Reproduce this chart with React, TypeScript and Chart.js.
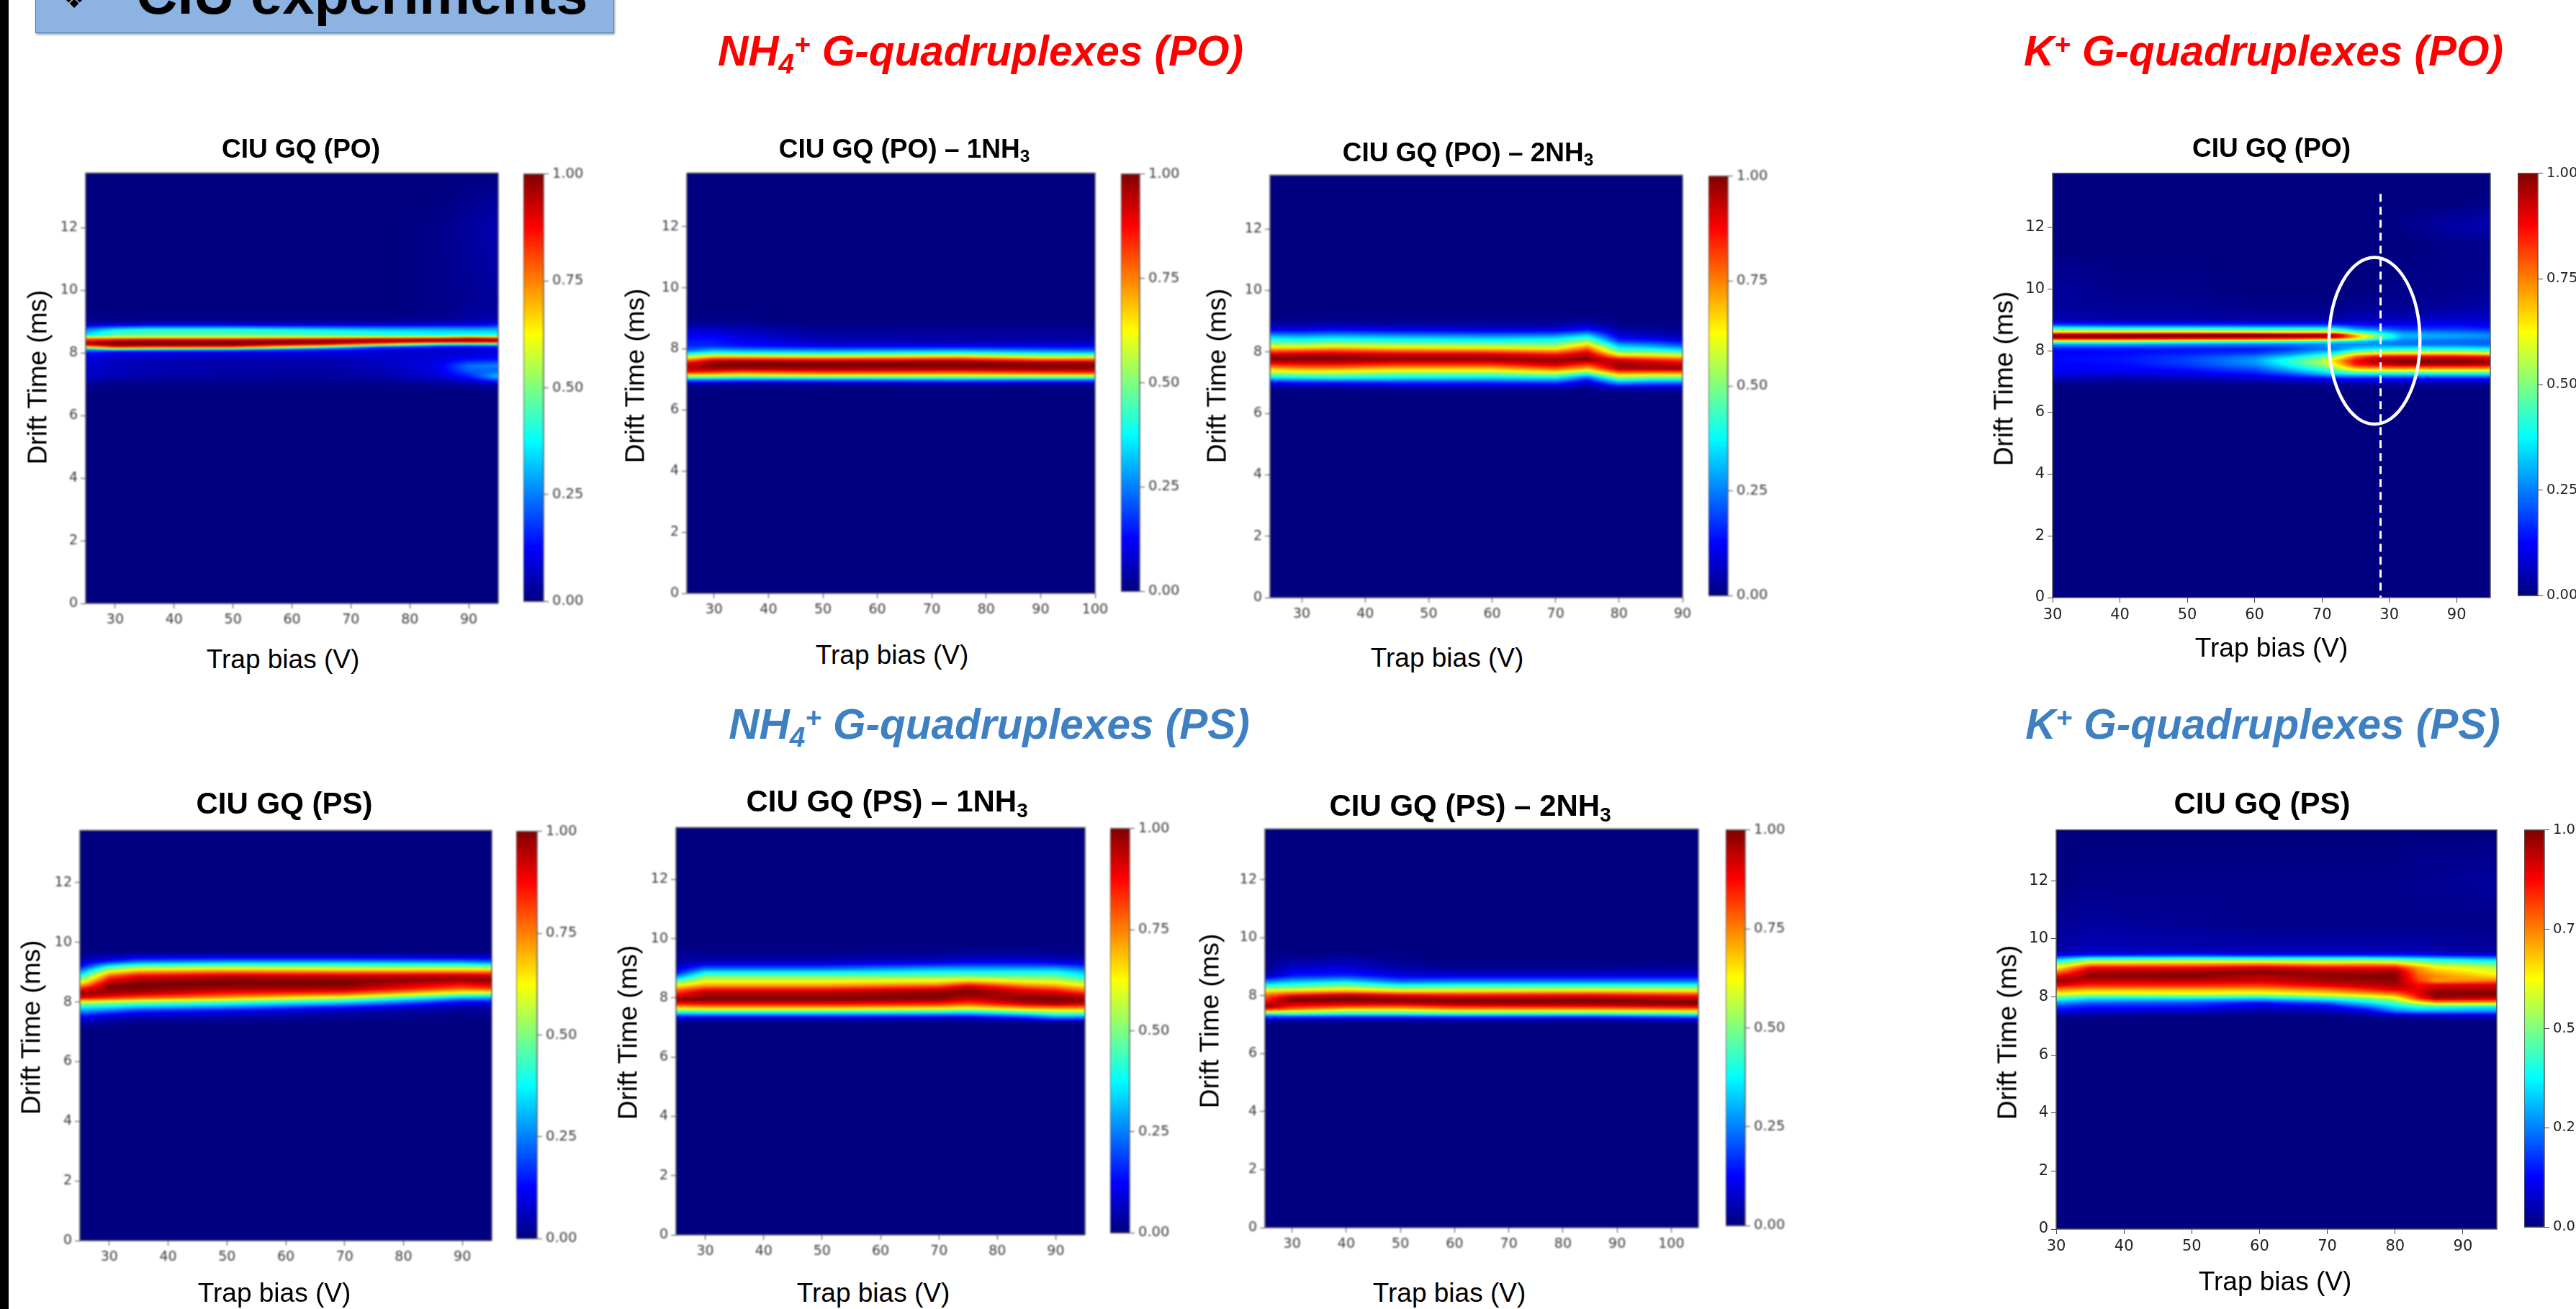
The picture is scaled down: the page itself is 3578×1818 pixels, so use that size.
import React, { useEffect, useRef } from "react";
import { Chart, registerables } from "chart.js";

Chart.register(...registerables);

// ---------- values (intensity in %, rows = drift time, columns = trap bias) ----------
const driftTicks = [0, 2, 4, 6, 8, 10, 12];
const colorbarTicks = [0, 0.25, 0.5, 0.75, 1];
const colorLevels = Array.from({ length: 256 }, (_, i) => i / 255);

const aBias = [25, 30, 35, 50, 65, 75, 85, 90, 95];
const aDrift = [6.7, 7.0, 7.25, 7.45, 7.6, 7.8, 7.95, 8.05, 8.12, 8.2, 8.28, 8.36, 8.44, 8.5, 8.58, 8.7, 8.8, 8.88, 9.0, 9.2, 9.6, 12, 13.2, 13.75];
const aGrid = [
  [0, 0, 0, 0, 0, 0, 0, 0, 0],
  [2, 1, 1, 1, 1, 1, 2, 3, 4],
  [7, 5, 4, 3, 3, 4, 8, 15, 32],
  [8, 6, 5, 4, 3, 5, 10, 22, 22],
  [8, 6, 5, 4, 4, 6, 11, 24, 26],
  [9, 7, 6, 5, 5, 7, 9, 13, 14],
  [12, 9, 8, 7, 7, 8, 8, 9, 10],
  [18, 14, 14, 12, 12, 9, 8, 8, 9],
  [30, 45, 40, 34, 18, 11, 9, 9, 10],
  [65, 88, 85, 85, 50, 22, 14, 13, 14],
  [97, 100, 100, 100, 92, 70, 40, 38, 40],
  [90, 98, 100, 100, 100, 96, 92, 92, 92],
  [80, 85, 88, 88, 92, 96, 100, 100, 98],
  [62, 62, 62, 62, 64, 66, 68, 76, 70],
  [35, 45, 46, 46, 44, 42, 38, 40, 40],
  [28, 42, 44, 44, 40, 36, 34, 33, 33],
  [20, 28, 32, 32, 28, 26, 26, 25, 26],
  [10, 12, 14, 14, 12, 12, 13, 13, 16],
  [3, 2, 3, 3, 3, 3, 4, 5, 7],
  [1, 0, 0, 0, 0, 0, 1, 3, 4],
  [0, 0, 0, 0, 0, 0, 1, 2, 3],
  [0, 0, 0, 0, 0, 0, 1, 3, 5],
  [0, 0, 0, 0, 0, 0, 0, 1, 2],
  [0, 0, 0, 0, 0, 0, 0, 0, 0],
];

const bBias = [25, 30, 35, 50, 75, 90, 100];
const bDrift = [6.7, 6.85, 6.95, 7.05, 7.15, 7.25, 7.35, 7.45, 7.55, 7.65, 7.75, 7.85, 7.95, 8.1, 8.3, 8.6, 8.9, 9.3, 13.75];
const bGrid = [
  [0, 0, 0, 0, 0, 0, 0],
  [4, 4, 3, 4, 5, 4, 4],
  [18, 18, 16, 18, 20, 18, 18],
  [42, 40, 38, 40, 42, 42, 42],
  [66, 64, 62, 66, 64, 66, 66],
  [88, 85, 80, 85, 82, 86, 88],
  [94, 96, 96, 96, 96, 98, 97],
  [93, 100, 100, 100, 100, 100, 100],
  [88, 98, 100, 100, 100, 97, 96],
  [72, 88, 88, 86, 88, 78, 78],
  [55, 66, 66, 62, 66, 56, 56],
  [38, 45, 42, 40, 44, 38, 36],
  [22, 30, 28, 26, 28, 24, 22],
  [16, 16, 14, 10, 10, 10, 10],
  [14, 14, 11, 5, 4, 4, 4],
  [8, 8, 6, 2, 2, 2, 2],
  [1, 1, 1, 0, 0, 0, 0],
  [0, 0, 0, 0, 0, 0, 0],
  [0, 0, 0, 0, 0, 0, 0],
];

const cBias = [25, 30, 35, 45, 60, 70, 75, 80, 85, 90];
const cDrift = [6.6, 6.8, 7.0, 7.15, 7.3, 7.45, 7.6, 7.75, 7.9, 8.05, 8.2, 8.35, 8.5, 8.7, 8.9, 9.2, 13.75];
const cGrid = [
  [0, 0, 0, 0, 0, 0, 0, 0, 0, 0],
  [1, 1, 1, 2, 2, 2, 1, 4, 4, 4],
  [12, 14, 14, 16, 16, 18, 8, 28, 24, 24],
  [34, 36, 38, 36, 34, 36, 20, 50, 46, 46],
  [52, 54, 54, 50, 50, 56, 44, 72, 70, 70],
  [68, 72, 72, 68, 68, 78, 68, 95, 96, 98],
  [86, 88, 88, 84, 84, 94, 84, 98, 96, 92],
  [100, 100, 100, 98, 98, 98, 100, 90, 84, 80],
  [94, 96, 96, 94, 94, 88, 96, 64, 62, 58],
  [76, 78, 80, 76, 74, 70, 84, 44, 42, 36],
  [58, 56, 60, 56, 54, 52, 70, 32, 28, 22],
  [44, 42, 44, 42, 40, 42, 52, 18, 16, 12],
  [32, 30, 32, 30, 28, 30, 38, 10, 8, 5],
  [12, 12, 14, 12, 10, 10, 16, 4, 3, 2],
  [3, 3, 4, 3, 3, 3, 5, 1, 1, 1],
  [0, 0, 0, 0, 0, 0, 0, 0, 0, 0],
  [0, 0, 0, 0, 0, 0, 0, 0, 0, 0],
];

const dBias = [30, 40, 50, 60, 65, 70, 72, 75, 78, 82, 90, 95];
const dDrift = [6.7, 6.9, 7.1, 7.25, 7.4, 7.55, 7.67, 7.8, 7.92, 8.05, 8.2, 8.3, 8.38, 8.45, 8.52, 8.6, 8.7, 8.85, 9.0, 9.4, 10, 11.4, 12.1, 12.8, 13.75];
const dGrid = [
  [0, 0, 0, 0, 0, 0, 0, 0, 0, 0, 0, 0],
  [1, 1, 1, 1, 1, 2, 2, 2, 2, 2, 2, 2],
  [6, 4, 5, 7, 10, 12, 14, 14, 14, 14, 14, 14],
  [10, 9, 10, 14, 20, 30, 35, 38, 38, 38, 38, 38],
  [12, 12, 14, 20, 30, 42, 50, 65, 68, 68, 68, 68],
  [12, 13, 18, 26, 38, 52, 62, 85, 90, 95, 95, 93],
  [13, 14, 19, 28, 42, 55, 68, 88, 97, 100, 100, 98],
  [13, 14, 18, 25, 34, 46, 56, 78, 88, 90, 90, 86],
  [12, 13, 15, 18, 24, 34, 38, 58, 62, 64, 64, 60],
  [14, 14, 14, 14, 18, 24, 26, 34, 38, 40, 40, 38],
  [28, 28, 26, 24, 24, 26, 26, 26, 26, 24, 24, 22],
  [50, 50, 46, 44, 42, 40, 38, 34, 28, 24, 22, 22],
  [85, 85, 82, 80, 78, 74, 72, 60, 42, 28, 26, 24],
  [100, 100, 98, 98, 96, 96, 96, 72, 52, 30, 28, 26],
  [96, 98, 100, 100, 98, 96, 96, 68, 48, 30, 28, 26],
  [68, 68, 68, 66, 64, 66, 62, 44, 36, 26, 24, 22],
  [46, 44, 44, 42, 42, 42, 40, 28, 24, 18, 18, 16],
  [18, 16, 16, 16, 16, 16, 16, 14, 12, 12, 12, 10],
  [5, 4, 4, 4, 4, 4, 4, 6, 6, 6, 8, 8],
  [3, 2, 2, 1, 1, 1, 1, 2, 2, 2, 3, 4],
  [3, 1, 1, 0, 0, 0, 0, 0, 0, 1, 1, 2],
  [0, 0, 0, 0, 0, 0, 0, 0, 0, 0, 1, 1],
  [0, 0, 0, 0, 0, 0, 0, 0, 0, 1, 4, 5],
  [0, 0, 0, 0, 0, 0, 0, 0, 0, 0, 0, 1],
  [0, 0, 0, 0, 0, 0, 0, 0, 0, 0, 0, 0],
];
const dTransitionBias = 78.7;
const dTransitionTop = 13.08;
const dEllipseBias = 77.8;
const dEllipseDrift = 8.32;
const dEllipseBiasRadius = 6.75;
const dEllipseDriftRadius = 2.7;

const eBias = [25, 30, 35, 50, 70, 90, 95];
const eDrift = [7.1, 7.3, 7.5, 7.7, 7.85, 8.0, 8.15, 8.3, 8.45, 8.6, 8.75, 8.9, 9.05, 9.2, 9.35, 9.5, 9.7, 13.75];
const eGrid = [
  [0, 0, 0, 0, 0, 0, 0],
  [4, 2, 1, 1, 0, 0, 0],
  [12, 7, 5, 4, 2, 1, 1],
  [28, 22, 16, 12, 5, 2, 2],
  [40, 38, 34, 28, 16, 5, 5],
  [60, 55, 52, 46, 36, 12, 12],
  [92, 85, 80, 72, 58, 32, 30],
  [98, 96, 94, 86, 82, 58, 56],
  [85, 100, 100, 96, 96, 78, 82],
  [66, 98, 100, 100, 100, 88, 92],
  [50, 88, 96, 100, 100, 98, 100],
  [36, 76, 86, 90, 90, 92, 90],
  [24, 58, 68, 72, 70, 70, 70],
  [12, 38, 48, 50, 48, 48, 46],
  [6, 16, 24, 28, 28, 26, 22],
  [3, 6, 10, 10, 10, 8, 8],
  [0, 0, 0, 0, 0, 0, 0],
  [0, 0, 0, 0, 0, 0, 0],
];

const fBias = [25, 30, 50, 70, 75, 85, 90, 95];
const fDrift = [7.05, 7.2, 7.35, 7.5, 7.65, 7.8, 7.95, 8.1, 8.25, 8.4, 8.55, 8.7, 8.85, 9.0, 9.2, 9.45, 9.8, 13.75];
const fGrid = [
  [0, 0, 0, 0, 0, 0, 0, 0],
  [1, 1, 1, 1, 1, 2, 3, 3],
  [12, 12, 12, 10, 10, 18, 28, 26],
  [38, 38, 38, 36, 34, 44, 50, 50],
  [62, 66, 66, 64, 60, 70, 72, 72],
  [86, 88, 88, 84, 80, 92, 96, 92],
  [100, 100, 100, 98, 92, 100, 100, 100],
  [88, 98, 98, 100, 98, 96, 96, 90],
  [78, 90, 90, 96, 100, 90, 86, 76],
  [64, 74, 74, 80, 90, 76, 72, 64],
  [48, 62, 62, 64, 70, 62, 60, 52],
  [28, 52, 52, 52, 52, 50, 50, 40],
  [14, 38, 38, 40, 40, 40, 40, 32],
  [8, 22, 22, 28, 28, 28, 28, 22],
  [3, 7, 7, 10, 12, 12, 10, 8],
  [2, 2, 2, 2, 3, 3, 2, 2],
  [0, 0, 0, 0, 0, 0, 0, 0],
  [0, 0, 0, 0, 0, 0, 0, 0],
];

const gBias = [25, 30, 40, 50, 60, 85, 105];
const gDrift = [6.95, 7.1, 7.25, 7.35, 7.45, 7.55, 7.65, 7.75, 7.85, 7.95, 8.05, 8.15, 8.25, 8.35, 8.5, 8.7, 8.95, 9.3, 9.6, 13.75];
const gGrid = [
  [0, 0, 0, 0, 0, 0, 0],
  [1, 1, 1, 1, 1, 1, 2],
  [16, 14, 12, 12, 14, 12, 18],
  [34, 38, 36, 36, 38, 36, 40],
  [62, 58, 52, 52, 56, 56, 58],
  [88, 78, 68, 68, 74, 74, 78],
  [100, 88, 84, 82, 88, 90, 94],
  [92, 94, 94, 94, 98, 98, 100],
  [84, 100, 100, 100, 100, 100, 98],
  [80, 96, 100, 94, 92, 94, 90],
  [74, 82, 90, 84, 82, 84, 80],
  [66, 68, 72, 66, 66, 68, 66],
  [52, 52, 60, 52, 52, 54, 52],
  [40, 44, 50, 40, 42, 42, 42],
  [24, 30, 34, 22, 24, 24, 24],
  [4, 14, 16, 10, 9, 9, 9],
  [1, 8, 9, 4, 2, 2, 3],
  [1, 2, 3, 1, 0, 0, 0],
  [0, 0, 0, 0, 0, 0, 0],
  [0, 0, 0, 0, 0, 0, 0],
];

const hBias = [30, 35, 50, 60, 70, 76, 80, 83.5, 86, 95];
const hDrift = [7.15, 7.35, 7.5, 7.65, 7.8, 7.95, 8.1, 8.25, 8.4, 8.55, 8.7, 8.85, 9.0, 9.15, 9.3, 9.45, 9.6, 10.5, 12, 13.75];
const hGrid = [
  [0, 0, 0, 0, 0, 0, 0, 0, 0, 0],
  [2, 2, 1, 1, 1, 2, 5, 6, 6, 8],
  [12, 8, 7, 3, 5, 10, 24, 28, 28, 26],
  [18, 14, 14, 8, 10, 22, 34, 40, 40, 36],
  [28, 22, 20, 14, 22, 36, 46, 60, 70, 70],
  [44, 36, 36, 34, 42, 50, 58, 84, 96, 92],
  [62, 58, 60, 58, 64, 70, 76, 90, 100, 100],
  [74, 70, 70, 70, 76, 84, 90, 90, 96, 96],
  [90, 84, 84, 82, 90, 94, 96, 88, 90, 92],
  [98, 93, 93, 92, 96, 97, 98, 82, 72, 76],
  [90, 98, 100, 94, 98, 100, 100, 78, 74, 66],
  [76, 96, 98, 100, 98, 96, 98, 76, 70, 60],
  [62, 88, 88, 92, 88, 88, 88, 72, 64, 56],
  [48, 68, 70, 72, 68, 70, 68, 58, 52, 46],
  [30, 44, 46, 44, 44, 44, 42, 38, 36, 30],
  [10, 14, 16, 14, 14, 14, 14, 14, 12, 10],
  [4, 6, 5, 5, 5, 5, 5, 5, 4, 3],
  [2, 3, 2, 1, 1, 1, 1, 1, 1, 1],
  [0, 1, 1, 1, 1, 1, 1, 2, 2, 3],
  [0, 0, 0, 0, 0, 0, 0, 0, 0, 0],
];

const ticks25to95 = [30, 40, 50, 60, 70, 80, 90];
const ticks25to100 = [30, 40, 50, 60, 70, 80, 90, 100];
const ticks25to90 = [30, 40, 50, 60, 70, 80, 90];
const ticks25to105 = [30, 40, 50, 60, 70, 80, 90, 100];
const ticks30to95 = [30, 40, 50, 60, 70, 80, 90];
// the "80" of the K+ (PO) panel is cut by the dashed line on the slide and reads as 30
const kPoTickLabels = ["30", "40", "50", "60", "70", "30", "90"];

const titleCiuPo = ["CIU GQ (PO)", ""];
const titleCiuPo1 = ["CIU GQ (PO) – 1NH", "3"];
const titleCiuPo2 = ["CIU GQ (PO) – 2NH", "3"];
const titleCiuPs = ["CIU GQ (PS)", ""];
const titleCiuPs1 = ["CIU GQ (PS) – 1NH", "3"];
const titleCiuPs2 = ["CIU GQ (PS) – 2NH", "3"];

// ---------- layout ----------
const panels: any[] = [
  { bias: aBias, drift: aDrift, grid: aGrid, xMin: 25, xMax: 95, xTicks: ticks25to95, L: 119, R: 692, T: 239, B: 838, cL: 727, cR: 755, title: titleCiuPo, tx: 418, ty: 206, ts: 37, lx: 393, ly: 915, ax: 52, ay: 524, fs: 19, blur: 0.8 },
  { bias: bBias, drift: bDrift, grid: bGrid, xMin: 25, xMax: 100, xTicks: ticks25to100, L: 954, R: 1521, T: 239, B: 824, cL: 1557, cR: 1583, title: titleCiuPo1, tx: 1256, ty: 206, ts: 37, lx: 1239, ly: 909, ax: 882, ay: 522, fs: 19, blur: 0.8 },
  { bias: cBias, drift: cDrift, grid: cGrid, xMin: 25, xMax: 90, xTicks: ticks25to90, L: 1764, R: 2337, T: 242, B: 830, cL: 2373, cR: 2400, title: titleCiuPo2, tx: 2039, ty: 211, ts: 37, lx: 2010, ly: 913, ax: 1690, ay: 522, fs: 19, blur: 0.8 },
  { bias: dBias, drift: dDrift, grid: dGrid, xMin: 30, xMax: 95, xTicks: ticks30to95, xLabels: kPoTickLabels, L: 2851, R: 3459, T: 238, B: 830, cL: 3497, cR: 3525, title: titleCiuPo, tx: 3155, ty: 205, ts: 37, lx: 3155, ly: 899, ax: 2783, ay: 526, fs: 21, blur: 0, marker: true },
  { bias: eBias, drift: eDrift, grid: eGrid, xMin: 25, xMax: 95, xTicks: ticks25to95, L: 111, R: 683, T: 1152, B: 1723, cL: 717, cR: 746, title: titleCiuPs, tx: 395, ty: 1116, ts: 42, lx: 381, ly: 1795, ax: 43, ay: 1427, fs: 19, blur: 0.8 },
  { bias: fBias, drift: fDrift, grid: fGrid, xMin: 25, xMax: 95, xTicks: ticks25to95, L: 939, R: 1507, T: 1148, B: 1715, cL: 1542, cR: 1569, title: titleCiuPs1, tx: 1232, ty: 1113, ts: 42, lx: 1213, ly: 1795, ax: 872, ay: 1434, fs: 19, blur: 0.8 },
  { bias: gBias, drift: gDrift, grid: gGrid, xMin: 25, xMax: 105, xTicks: ticks25to105, L: 1757, R: 2359, T: 1150, B: 1705, cL: 2397, cR: 2424, title: titleCiuPs2, tx: 2042, ty: 1119, ts: 42, lx: 2013, ly: 1795, ax: 1680, ay: 1418, fs: 19, blur: 0.8 },
  { bias: hBias, drift: hDrift, grid: hGrid, xMin: 30, xMax: 95, xTicks: ticks30to95, L: 2856, R: 3468, T: 1150, B: 1707, cL: 3506, cR: 3534, title: titleCiuPs, tx: 3142, ty: 1116, ts: 42, lx: 3160, ly: 1779, ax: 2788, ay: 1434, fs: 21, blur: 0 },
];

const RED = "#ff0000";
const BLUE = "#3f80c2";
const SANS = "'Liberation Sans', Arial, sans-serif";
const headers = [
  { ion: "NH", sub: "4", sup: "+", rest: " G-quadruplexes (PO)", x: 1362, y: 71, color: RED },
  { ion: "K", sub: "", sup: "+", rest: " G-quadruplexes (PO)", x: 3144, y: 71, color: RED },
  { ion: "NH", sub: "4", sup: "+", rest: " G-quadruplexes (PS)", x: 1374, y: 1006, color: BLUE },
  { ion: "K", sub: "", sup: "+", rest: " G-quadruplexes (PS)", x: 3143, y: 1006, color: BLUE },
];

// ---------- jet colour map ----------
const clip = (v: number) => Math.max(0, Math.min(1, v));
function jet(v: number): [number, number, number] {
  return [
    Math.round(255 * clip(1.5 - Math.abs(4 * v - 3))),
    Math.round(255 * clip(1.5 - Math.abs(4 * v - 2))),
    Math.round(255 * clip(1.5 - Math.abs(4 * v - 1))),
  ];
}

function locate(list: number[], v: number): [number, number, number] {
  if (v <= list[0]) return [0, 0, 0];
  const n = list.length - 1;
  if (v >= list[n]) return [n, n, 0];
  let i = 0;
  while (list[i + 1] < v) i++;
  return [i, i + 1, (v - list[i]) / (list[i + 1] - list[i])];
}

// Paints the table through the chart's scales, value-interpolated between table cells.
const heatPlugin = {
  id: "heat",
  beforeDatasetsDraw(chart: any, _a: any, opts: any) {
    const { ctx, chartArea: ca, scales } = chart;
    const { bias, drift, grid } = opts;
    const w = Math.round(ca.right - ca.left);
    const h = Math.round(ca.bottom - ca.top);
    const off = document.createElement("canvas");
    off.width = w;
    off.height = h;
    const octx = off.getContext("2d")!;
    const img = octx.createImageData(w, h);
    const xs = Array.from({ length: w }, (_, i) => locate(bias, scales.x.getValueForPixel(ca.left + i + 0.5)));
    for (let j = 0; j < h; j++) {
      const [r0, r1, rt] = locate(drift, scales.y.getValueForPixel(ca.top + j + 0.5));
      for (let i = 0; i < w; i++) {
        const [c0, c1, ct] = xs[i];
        const top = grid[r0][c0] * (1 - ct) + grid[r0][c1] * ct;
        const bot = grid[r1][c0] * (1 - ct) + grid[r1][c1] * ct;
        const [R, G, B] = jet((top * (1 - rt) + bot * rt) / 100);
        const k = (j * w + i) * 4;
        img.data[k] = R;
        img.data[k + 1] = G;
        img.data[k + 2] = B;
        img.data[k + 3] = 255;
      }
    }
    octx.putImageData(img, 0, 0);
    ctx.drawImage(off, ca.left, ca.top);
  },
  afterDatasetsDraw(chart: any) {
    const { ctx, chartArea: ca } = chart;
    ctx.save();
    ctx.strokeStyle = "#5a5a5a";
    ctx.lineWidth = 1.5;
    ctx.strokeRect(ca.left, ca.top, ca.right - ca.left, ca.bottom - ca.top);
    ctx.restore();
  },
};

const markerPlugin = {
  id: "marker",
  afterDatasetsDraw(chart: any, _a: any, opts: any) {
    if (!opts.show) return;
    const { ctx, scales } = chart;
    const x = scales.x.getPixelForValue(dTransitionBias);
    ctx.save();
    ctx.strokeStyle = "#ffffff";
    ctx.lineWidth = 3;
    ctx.setLineDash([11, 7]);
    ctx.beginPath();
    ctx.moveTo(x, scales.y.getPixelForValue(dTransitionTop));
    ctx.lineTo(x, scales.y.getPixelForValue(0));
    ctx.stroke();
    ctx.setLineDash([]);
    ctx.lineWidth = 4.5;
    ctx.beginPath();
    const cx = scales.x.getPixelForValue(dEllipseBias);
    const cy = scales.y.getPixelForValue(dEllipseDrift);
    const rx = Math.abs(scales.x.getPixelForValue(dEllipseBias + dEllipseBiasRadius) - cx);
    const ry = Math.abs(scales.y.getPixelForValue(dEllipseDrift + dEllipseDriftRadius) - cy);
    ctx.ellipse(cx, cy, rx, ry, 0, 0, Math.PI * 2);
    ctx.stroke();
    ctx.restore();
  },
};

const colorbarPlugin = {
  id: "colorbar",
  beforeDatasetsDraw(chart: any) {
    const { ctx, chartArea: ca, scales } = chart;
    const pts = chart.data.datasets[0].data;
    for (let i = 0; i < pts.length - 1; i++) {
      const y0 = scales.y.getPixelForValue(pts[i].y);
      const y1 = scales.y.getPixelForValue(pts[i + 1].y);
      const [r, g, b] = jet(pts[i].y);
      ctx.fillStyle = `rgb(${r},${g},${b})`;
      ctx.fillRect(ca.left, y1, ca.right - ca.left, y0 - y1 + 0.7);
    }
    ctx.strokeStyle = "#5a5a5a";
    ctx.lineWidth = 1.5;
    ctx.strokeRect(ca.left, ca.top, ca.right - ca.left, ca.bottom - ca.top);
  },
};

const PAD_LEFT = 62;
const PAD_TOP = 14;
const PAD_RIGHT = 34;
const PAD_BOTTOM = 52;
const CB_RIGHT = 74;

function tableToPoints(bias: number[], drift: number[], grid: number[][]) {
  const pts: any[] = [];
  drift.forEach((y, r) => bias.forEach((x, c) => pts.push({ x, y, v: grid[r][c] })));
  return pts;
}

function Text({ x, y, size, bold, rotate, color, italic, children }: any) {
  return (
    <div
      style={{
        position: "absolute",
        left: x,
        top: y,
        transform: `translate(-50%,-50%)${rotate ? " rotate(-90deg)" : ""}`,
        font: `${italic ? "italic " : ""}${bold ? "bold " : ""}${size}px/1 ${SANS}`,
        color: color || "#000",
        whiteSpace: "pre",
      }}
    >
      {children}
    </div>
  );
}

const subStyle: any = { fontSize: "0.66em", verticalAlign: "-0.28em", lineHeight: 0 };
const supStyle: any = { fontSize: "0.66em", verticalAlign: "0.42em", lineHeight: 0 };

export default function App() {
  const plotRefs = useRef<(HTMLCanvasElement | null)[]>([]);
  const barRefs = useRef<(HTMLCanvasElement | null)[]>([]);

  useEffect(() => {
    const charts: Chart[] = [];
    panels.forEach((p, i) => {
      const tickColor = p.blur ? "#3a3a3a" : "#222";
      const tickFont = { family: "'DejaVu Sans'", size: p.fs };
      charts.push(
        new Chart(plotRefs.current[i]!, {
          type: "scatter",
          data: { datasets: [{ data: tableToPoints(p.bias, p.drift, p.grid), pointRadius: 0, showLine: false }] },
          options: {
            animation: false,
            responsive: false,
            devicePixelRatio: 1,
            layout: { autoPadding: false, padding: { left: 0, top: PAD_TOP, right: PAD_RIGHT, bottom: 0 } },
            plugins: {
              legend: { display: false },
              tooltip: { enabled: false },
              heat: { bias: p.bias, drift: p.drift, grid: p.grid },
              marker: { show: !!p.marker },
            },
            scales: {
              x: {
                type: "linear",
                min: p.xMin,
                max: p.xMax,
                afterBuildTicks: (s: any) => { s.ticks = p.xTicks.map((value: number) => ({ value })); },
                afterFit: (s: any) => { s.height = PAD_BOTTOM; },
                grid: { drawOnChartArea: false, tickLength: 7, color: "#444" },
                border: { display: false },
                ticks: {
                  autoSkip: false,
                  maxRotation: 0,
                  padding: 5,
                  color: tickColor,
                  font: tickFont,
                  callback: (v: any, idx: number) => (p.xLabels ? p.xLabels[idx] : String(v)),
                },
              },
              y: {
                type: "linear",
                min: 0,
                max: 13.75,
                afterBuildTicks: (s: any) => { s.ticks = driftTicks.map((value) => ({ value })); },
                afterFit: (s: any) => { s.width = PAD_LEFT; },
                grid: { drawOnChartArea: false, tickLength: 7, color: "#444" },
                border: { display: false },
                ticks: { autoSkip: false, padding: 4, color: tickColor, font: tickFont, callback: (v: any) => String(v) },
              },
            },
          } as any,
          plugins: [heatPlugin, markerPlugin] as any,
        })
      );
      charts.push(
        new Chart(barRefs.current[i]!, {
          type: "scatter",
          data: { datasets: [{ data: colorLevels.map((y) => ({ x: 0.5, y })), pointRadius: 0, showLine: false }] },
          options: {
            animation: false,
            responsive: false,
            devicePixelRatio: 1,
            layout: { autoPadding: false, padding: { left: 0, top: PAD_TOP, right: 0, bottom: PAD_TOP } },
            plugins: { legend: { display: false }, tooltip: { enabled: false } },
            scales: {
              x: { type: "linear", min: 0, max: 1, display: false },
              y: {
                type: "linear",
                position: "right",
                min: 0,
                max: 1,
                afterBuildTicks: (s: any) => { s.ticks = colorbarTicks.map((value) => ({ value })); },
                afterFit: (s: any) => { s.width = CB_RIGHT; },
                grid: { drawOnChartArea: false, tickLength: 7, color: "#444" },
                border: { display: false },
                ticks: {
                  autoSkip: false,
                  padding: 5,
                  color: tickColor,
                  font: { family: "'DejaVu Sans'", size: 19.5 },
                  callback: (v: any) => Number(v).toFixed(2),
                },
              },
            },
          } as any,
          plugins: [colorbarPlugin] as any,
        })
      );
    });
    return () => charts.forEach((c) => c.destroy());
  }, []);

  return (
    <div style={{ position: "fixed", left: 0, top: 0, width: 3578, height: 1818, overflow: "hidden", background: "#fff" }}>
      <div style={{ position: "absolute", left: 0, top: 0, width: 12, height: 1818, background: "#000" }} />
      <div
        style={{
          position: "absolute",
          left: 49,
          top: -4,
          width: 802,
          height: 48,
          background: "#8db3e2",
          border: "1.5px solid #4f81bd",
          boxShadow: "1px 2px 3px rgba(0,0,0,0.4)",
          overflow: "hidden",
        }}
      >
        <div style={{ position: "absolute", left: 139, top: -45, font: `bold 79.5px/1 ${SANS}`, color: "#000", whiteSpace: "pre" }}>
          CIU experiments
        </div>
        <div style={{ position: "absolute", left: 36, top: -18, font: "38px/1 'DejaVu Sans'", color: "#000" }}>❖</div>
      </div>

      {headers.map((h, i) => (
        <Text key={i} x={h.x} y={h.y} size={58.5} bold italic color={h.color}>
          {h.ion}
          {h.sub ? <span style={subStyle}>{h.sub}</span> : null}
          <span style={supStyle}>{h.sup}</span>
          {h.rest}
        </Text>
      ))}

      {panels.map((p, i) => (
        <React.Fragment key={i}>
          <canvas
            ref={(el) => { plotRefs.current[i] = el; }}
            width={p.R - p.L + PAD_LEFT + PAD_RIGHT}
            height={p.B - p.T + PAD_TOP + PAD_BOTTOM}
            style={{
              position: "absolute",
              left: p.L - PAD_LEFT,
              top: p.T - PAD_TOP,
              filter: p.blur ? `blur(${p.blur}px)` : undefined,
            }}
          />
          <canvas
            ref={(el) => { barRefs.current[i] = el; }}
            width={p.cR - p.cL + CB_RIGHT}
            height={p.B - p.T + 2 * PAD_TOP}
            style={{
              position: "absolute",
              left: p.cL,
              top: p.T - PAD_TOP,
              filter: p.blur ? `blur(${p.blur}px)` : undefined,
            }}
          />
          <Text x={p.tx} y={p.ty} size={p.ts} bold>
            {p.title[0]}
            {p.title[1] ? <span style={subStyle}>{p.title[1]}</span> : null}
          </Text>
          <Text x={p.lx} y={p.ly} size={37}>Trap bias (V)</Text>
          <Text x={p.ax} y={p.ay} size={37} rotate>Drift Time (ms)</Text>
        </React.Fragment>
      ))}
    </div>
  );
}
